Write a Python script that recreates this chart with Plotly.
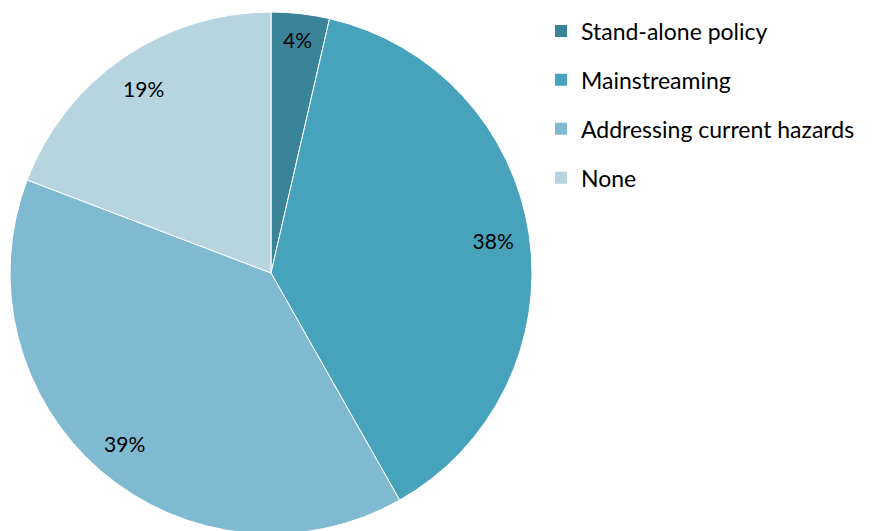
import plotly.graph_objects as go

categories = ["Stand-alone policy", "Mainstreaming", "Addressing current hazards", "None"]
values = [3.6, 38.2, 39.0, 19.2]
colors = ["#3a8499", "#47a2bb", "#7fbad0", "#b6d5e0"]

W, H = 875, 531
FONT = "Lato"
dom = dict(x=[1 / W, 525 / W], y=[1 - 526 / H, 1 - 4 / H])

fig = go.Figure()
# main pie (no text)
fig.add_trace(go.Pie(
    labels=categories,
    values=values,
    sort=False,
    direction="clockwise",
    rotation=0,
    marker=dict(colors=colors, line=dict(color="white", width=1)),
    textinfo="none",
    showlegend=False,
    hoverinfo="label+percent",
    domain=dom,
))
# transparent ring carrying the percentage labels near the outer edge
fig.add_trace(go.Pie(
    labels=categories,
    values=values,
    sort=False,
    direction="clockwise",
    rotation=0,
    hole=0.72,
    marker=dict(colors=["rgba(0,0,0,0)"] * len(values), line=dict(width=0)),
    texttemplate="%{percent:.0%}",
    textposition="inside",
    insidetextorientation="horizontal",
    textfont=dict(family=FONT, size=21, color="black"),
    showlegend=False,
    hoverinfo="skip",
    domain=dom,
))

for cat, col in zip(categories, colors):
    fig.add_trace(go.Scatter(
        x=[None], y=[None], mode="markers", name=cat,
        marker=dict(symbol="square", size=14, color=col),
        legendgroup=cat, showlegend=True,
    ))

fig.update_layout(
    width=W, height=H,
    margin=dict(l=0, r=0, t=0, b=0),
    paper_bgcolor="white", plot_bgcolor="white",
    xaxis=dict(visible=False), yaxis=dict(visible=False),
    font=dict(family=FONT, size=23, color="black"),
    legend=dict(
        x=533 / W, y=1 - 1.5 / H, xanchor="left", yanchor="top",
        font=dict(family=FONT, size=23, color="black"),
        tracegroupgap=16, itemsizing="constant",
        bgcolor="rgba(0,0,0,0)",
    ),
)

fig.write_html("out.html")
